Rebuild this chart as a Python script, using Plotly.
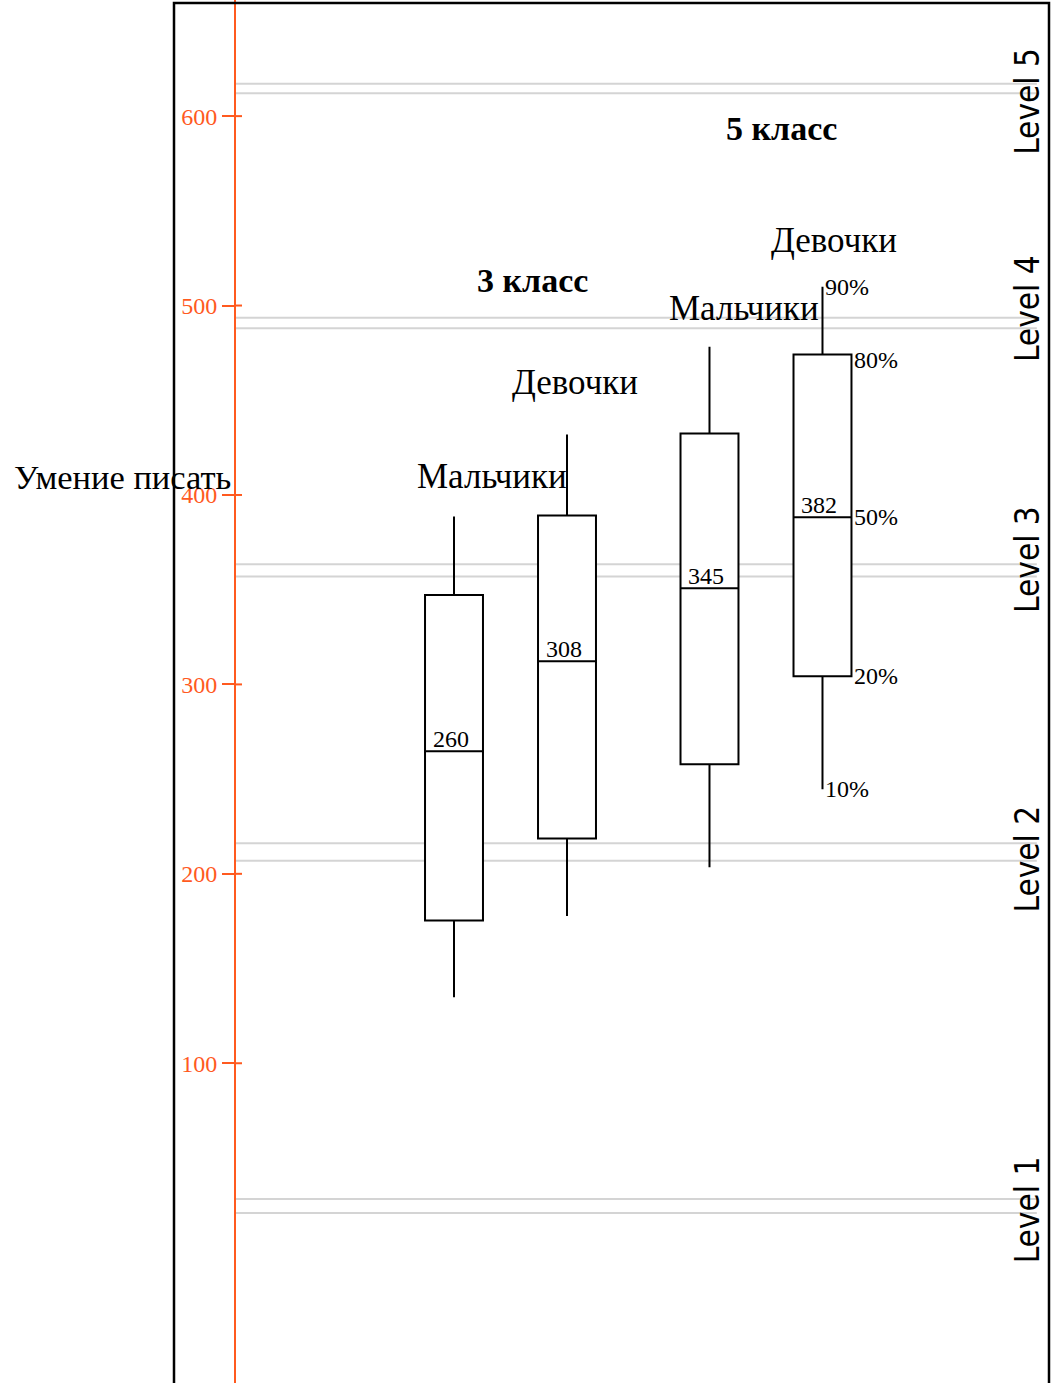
import plotly.graph_objects as go

# ---------------- data ----------------
groups = ["3 класс", "5 класс"]
genders = ["Мальчики", "Девочки"]
lower_10 = [134.8, 177.8, 203.5, 244.7]
q1_20 = [175.4, 218.7, 257.9, 304.3]
median_50 = [264.7, 312.2, 350.7, 388.2]
q3_80 = [347.2, 389.2, 432.4, 474.1]
upper_90 = [388.7, 431.9, 478.3, 509.9]
median_labels = ["260", "308", "345", "382"]
percent_labels = ["10%", "20%", "50%", "80%", "90%"]
level_names = ["Level 1", "Level 2", "Level 3", "Level 4", "Level 5"]
level_low = [20.9, 206.9, 357.0, 488.0, 612.1]
level_high = [28.4, 216.2, 363.4, 493.6, 617.1]
level_label_y = [22.6, 207.8, 366.0, 498.4, 607.8]
y_ticks = [100, 200, 300, 400, 500, 600]
y_title = "Умение писать"

# ---------------- layout helpers ----------------
ORANGE = "#FF5A1F"
SERIF = "Liberation Serif, DejaVu Serif, serif"
group_centers = [0.0, 2.261]
offsets = [-0.5, 0.5]
positions = [gc + off for gc in group_centers for off in offsets]
box_w = 0.513

fig = go.Figure()

fig.add_trace(go.Box(
    x=positions,
    q1=q1_20, median=median_50, q3=q3_80,
    lowerfence=lower_10, upperfence=upper_90,
    width=box_w,
    whiskerwidth=0,
    fillcolor="white",
    line=dict(color="black", width=2),
    boxpoints=False,
    hoverinfo="skip",
    showlegend=False,
))

shapes = []
# level band lines
for lo, hi in zip(level_low, level_high):
    for v in (lo, hi):
        shapes.append(dict(type="line", xref="paper", yref="y", x0=0, x1=0.985,
                           y0=v, y1=v, line=dict(color="#d4d4d4", width=2),
                           layer="below"))
# outer frame
shapes.append(dict(type="rect", xref="paper", yref="paper",
                   x0=(174 - 236) / 813, x1=(1049 - 236) / 813,
                   y0=-0.05, y1=(1383 - 3) / 1383,
                   line=dict(color="black", width=2.5), layer="above"))
# tick marks crossing slightly to the right of the axis
for t in y_ticks:
    shapes.append(dict(type="line", xref="paper", yref="y", x0=0, x1=6 / 813,
                       y0=t, y1=t, line=dict(color=ORANGE, width=2)))

ann = []
# level labels
for name, yv in zip(level_names, level_label_y):
    ann.append(dict(text=name, xref="paper", yref="y", x=(1027 - 236) / 813, y=yv,
                    xshift=22, textangle=-90, showarrow=False,
                    font=dict(family="Liberation Sans Narrow, DejaVu Sans Condensed, DejaVu Sans Mono",
                              size=33, color="black")))

# group / gender labels
name_pos = [(-0.164, 409.6), (0.571, 459.3), (2.066, 498.4), (2.863, 534.2)]
i = 0
for g in groups:
    for s in genders:
        ann.append(dict(text=s, x=name_pos[i][0], y=name_pos[i][1], showarrow=False,
                        font=dict(family=SERIF, size=35, color="black")))
        i += 1
group_label_pos = [(0.199, 513.1), (2.394, 593.3)]
for g, (gx, gy) in zip(groups, group_label_pos):
    ann.append(dict(text="<b>" + g + "</b>", x=gx, y=gy, showarrow=False,
                    font=dict(family=SERIF, size=34, color="black")))

# median labels
for p, m, lab in zip(positions, median_50, median_labels):
    ann.append(dict(text=lab, x=p, y=m, yanchor="bottom", yshift=-3, xshift=-3,
                    showarrow=False, font=dict(family=SERIF, size=24, color="black")))

# percentile labels on the last box
last = len(positions) - 1
pvals = [lower_10[last], q1_20[last], median_50[last], q3_80[last], upper_90[last]]
for lab, v in zip(percent_labels, pvals):
    on_whisker = lab in ("10%", "90%")
    xx = positions[last] if on_whisker else positions[last] + box_w / 2
    ann.append(dict(text=lab, x=xx, y=v, xanchor="left", xshift=1, showarrow=False,
                    yshift=-5 if lab == "80%" else 0,
                    font=dict(family=SERIF, size=24, color="black")))

# y title
ann.append(dict(text=y_title, xref="paper", yref="y", x=(12 - 236) / 813, y=409.6,
                xanchor="left", showarrow=False,
                font=dict(family=SERIF, size=34.5, color="black")))

fig.update_layout(
    width=1057, height=1383,
    margin=dict(l=236, r=8, t=0, b=0),
    paper_bgcolor="white", plot_bgcolor="white",
    shapes=shapes, annotations=ann,
    xaxis=dict(visible=False, range=[(236 - 510.5) / 113, (1049 - 510.5) / 113]),
    yaxis=dict(range=[-68.8, 661.3], tickvals=y_ticks, showgrid=False, zeroline=False,
               showline=True, linecolor=ORANGE, linewidth=2,
               ticks="outside", ticklen=12, tickwidth=2, tickcolor=ORANGE,
               tickfont=dict(family=SERIF, size=24, color=ORANGE)),
    showlegend=False,
)

fig.write_html("out.html", config={"displayModeBar": False},
               post_script="document.body.style.margin='0';document.body.style.overflow='hidden';")
